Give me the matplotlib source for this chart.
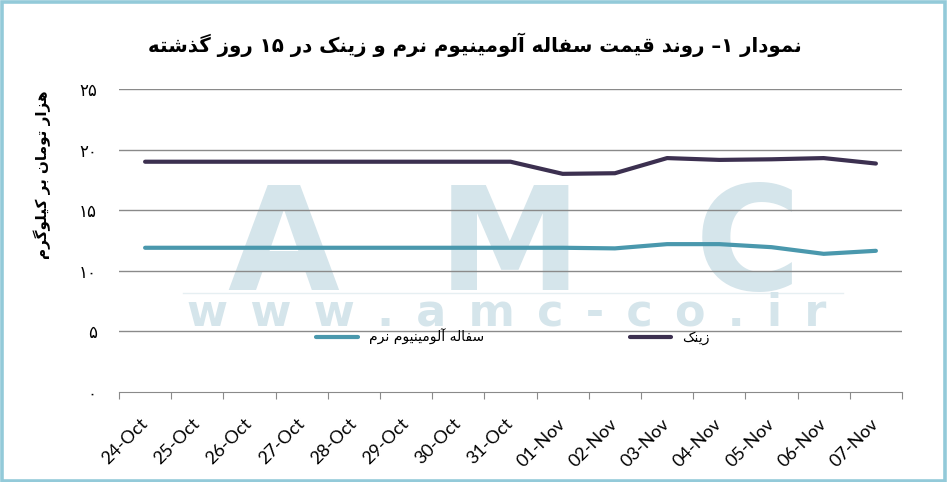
import re
import matplotlib
matplotlib.use('Agg')
import matplotlib.pyplot as plt
from matplotlib.patches import Rectangle

# ---- data ----
dates = ['24-Oct', '25-Oct', '26-Oct', '27-Oct', '28-Oct', '29-Oct', '30-Oct', '31-Oct',
         '01-Nov', '02-Nov', '03-Nov', '04-Nov', '05-Nov', '06-Nov', '07-Nov']
zinc = [19.0, 19.0, 19.0, 19.0, 19.0, 19.0, 19.0, 19.0,
        18.0, 18.05, 19.3, 19.15, 19.2, 19.3, 18.85]
aluminium = [11.9, 11.9, 11.9, 11.9, 11.9, 11.9, 11.9, 11.9,
             11.9, 11.85, 12.2, 12.2, 11.95, 11.4, 11.65]
yticks = [0, 5, 10, 15, 20, 25]
ytick_labels = ['۰', '۵', '۱۰', '۱۵', '۲۰', '۲۵']

title_txt = 'نمودار ۱– روند قیمت سفاله آلومینیوم نرم و زینک در ۱۵ روز گذشته'
ylabel_txt = 'هزار تومان بر کیلوگرم'
alu_label = 'سفاله آلومینیوم نرم'
zinc_label = 'زینک'

# ---- minimal persian shaping (matplotlib has no bidi / joining) ----
# char: (isolated, final, initial, medial)
FORMS = {
    'ا': ('\ufe8d', '\ufe8e', None, None),
    'آ': ('\ufe81', '\ufe82', None, None),
    'ب': ('\ufe8f', '\ufe90', '\ufe91', '\ufe92'),
    'ت': ('\ufe95', '\ufe96', '\ufe97', '\ufe98'),
    'د': ('\ufea9', '\ufeaa', None, None),
    'ذ': ('\ufeab', '\ufeac', None, None),
    'ر': ('\ufead', '\ufeae', None, None),
    'ز': ('\ufeaf', '\ufeb0', None, None),
    'س': ('\ufeb1', '\ufeb2', '\ufeb3', '\ufeb4'),
    'ش': ('\ufeb5', '\ufeb6', '\ufeb7', '\ufeb8'),
    'ف': ('\ufed1', '\ufed2', '\ufed3', '\ufed4'),
    'ق': ('\ufed5', '\ufed6', '\ufed7', '\ufed8'),
    'ل': ('\ufedd', '\ufede', '\ufedf', '\ufee0'),
    'م': ('\ufee1', '\ufee2', '\ufee3', '\ufee4'),
    'ن': ('\ufee5', '\ufee6', '\ufee7', '\ufee8'),
    'ه': ('\ufee9', '\ufeea', '\ufeeb', '\ufeec'),
    'و': ('\ufeed', '\ufeee', None, None),
    'ی': ('\ufbfc', '\ufbfd', '\ufbfe', '\ufbff'),
    'ک': ('\ufb8e', '\ufb8f', '\ufb90', '\ufb91'),
    'گ': ('\ufb92', '\ufb93', '\ufb94', '\ufb95'),
}


def fa(s):
    out = []
    for i, c in enumerate(s):
        if c not in FORMS:
            out.append(c)
            continue
        prev = s[i - 1] if i > 0 else ''
        nxt = s[i + 1] if i + 1 < len(s) else ''
        jp = prev in FORMS and FORMS[prev][2] is not None
        jn = nxt in FORMS and FORMS[c][2] is not None
        iso, fin, ini, med = FORMS[c]
        if jp and jn:
            out.append(med)
        elif jp:
            out.append(fin)
        elif jn:
            out.append(ini)
        else:
            out.append(iso)
    tokens = re.findall(r'[0-9۰-۹]+|.', ''.join(out))
    return ''.join(tokens[::-1])


W, H = 947, 482
fig = plt.figure(figsize=(W / 100, H / 100), dpi=100)
fig.patch.set_facecolor('white')

# light blue frame round the picture
fig.patches.append(Rectangle((1.5 / W, 1.5 / H), 1 - 3.5 / W, 1 - 3.5 / H, transform=fig.transFigure,
                             fill=False, edgecolor='#93cad9', linewidth=2.6))

ax = fig.add_axes([119 / W, 1 - 392 / H, 783 / W, 303 / H])
x = list(range(len(dates)))

# watermark
wm = '#d5e5eb'
for ch, cx in zip('AMC', [283, 510, 748]):
    ax.text(cx / W, 1 - 290 / H, ch, transform=fig.transFigure, ha='center', va='baseline',
            fontsize=104, fontweight='bold', family='DejaVu Sans', color=wm, zorder=0)
ax.plot([183 / W, 843 / W], [1 - 293 / H, 1 - 293 / H], transform=fig.transFigure,
        color='#e6eff2', lw=1, zorder=0)
ax.text(507 / W, 1 - 326 / H, '\u2002'.join('www.amc-co.ir'), transform=fig.transFigure,
        ha='center', va='baseline', fontsize=32, fontweight='bold', family='DejaVu Sans',
        color=wm, zorder=0)

for y in yticks[1:]:
    ax.axhline(y, color='#8a8a8a', lw=1, zorder=1)

ax.plot(x, aluminium, color='#4a98ad', lw=3, solid_capstyle='round', solid_joinstyle='round',
        zorder=3, label=fa(alu_label))
ax.plot(x, zinc, color='#3c3050', lw=3, solid_capstyle='round', solid_joinstyle='round',
        zorder=3, label=fa(zinc_label))

ax.set_xlim(-0.5, len(dates) - 0.5)
ax.set_ylim(0, 25)
for s in ['top', 'right', 'left']:
    ax.spines[s].set_visible(False)
ax.spines['bottom'].set_color('#8a8a8a')

ax.set_xticks([i - 0.5 for i in range(len(dates) + 1)], minor=False)
ax.set_xticklabels([])
ax.set_xticks(x, minor=True)
ax.set_xticklabels(dates, minor=True, rotation=45, ha='right', va='center', rotation_mode='anchor',
                   fontsize=13, family='Lato')
ax.tick_params(axis='x', which='major', length=5, color='#8a8a8a', direction='out')
ax.tick_params(axis='x', which='minor', length=0, pad=21)

ax.set_yticks(yticks)
ax.set_yticklabels(ytick_labels, fontsize=12, family='DejaVu Sans')
ax.tick_params(axis='y', length=0, pad=16)

fig.text(42 / W, 1 - 175 / H, fa(ylabel_txt), rotation=90, ha='center', va='center',
         fontsize=11, fontweight='bold', family='DejaVu Sans')
fig.text(475 / W, 1 - 45 / H, fa(title_txt), ha='center', va='center',
         fontsize=14.2, fontweight='bold', family='DejaVu Sans')

fig.legend(loc='center', bbox_to_anchor=(513 / W, 1 - 337 / H), ncol=2, frameon=False,
           handlelength=3, columnspacing=10.5, prop={'family': 'DejaVu Sans', 'size': 10})

fig.savefig('out.png', dpi=100)
